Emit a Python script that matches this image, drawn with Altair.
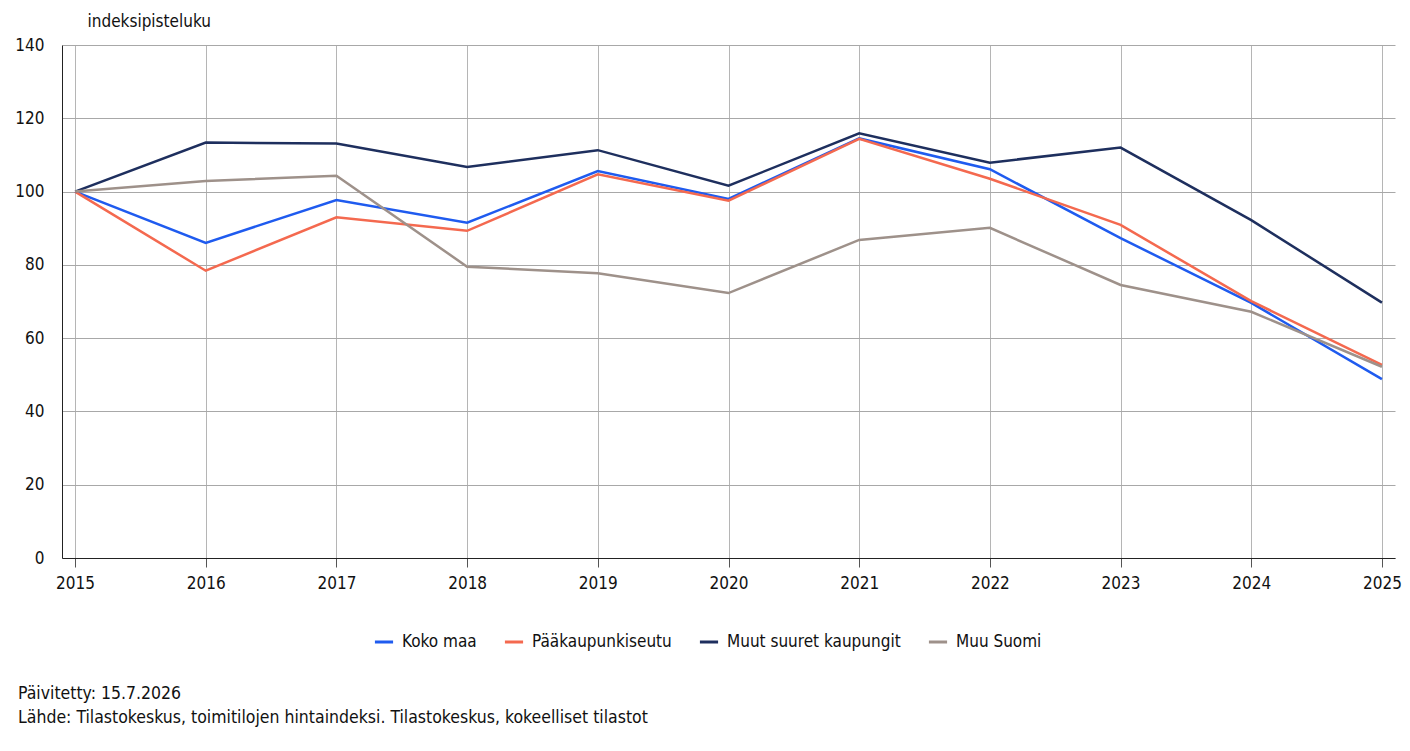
import altair as alt
import pandas as pd

years = [2015, 2016, 2017, 2018, 2019, 2020, 2021, 2022, 2023, 2024, 2025]
series_names = ["Koko maa", "Pääkaupunkiseutu", "Muut suuret kaupungit", "Muu Suomi"]
koko_maa = [100, 86.0, 97.7, 91.5, 105.6, 98.0, 114.5, 106.1, 87.3, 69.6, 48.8]
paakaupunkiseutu = [100, 78.4, 93.0, 89.3, 104.7, 97.5, 114.4, 103.5, 90.9, 70.1, 52.7]
muut_suuret = [100, 113.4, 113.1, 106.7, 111.3, 101.6, 115.9, 107.9, 112.0, 92.2, 69.7]
muu_suomi = [100, 102.9, 104.3, 79.5, 77.7, 72.3, 86.8, 90.1, 74.5, 67.2, 52.2]
colors = ["#1f5bef", "#f4694f", "#1e2f5e", "#9e918a"]
y_ticks = [0, 20, 40, 60, 80, 100, 120, 140]

rows = []
for name, vals in zip(series_names, [koko_maa, paakaupunkiseutu, muut_suuret, muu_suomi]):
    for yr, v in zip(years, vals):
        rows.append({"vuosi": str(yr), "sarja": name, "arvo": v})
df = pd.DataFrame(rows)

FONT = "Liberation Sans Narrow, DejaVu Sans Condensed, Roboto, sans-serif"
FS = 17

chart = alt.Chart(df).mark_line(strokeWidth=2.5).encode(
    x=alt.X("vuosi:O", scale=alt.Scale(type="point", padding=0.1),
            axis=alt.Axis(title=None, labelAngle=0, grid=True, gridColor="#b5b5b5",
                          domainColor="#222222", tickColor="#555555", tickSize=9,
                          labelPadding=8, labelFontSize=FS, labelColor="#111111")),
    y=alt.Y("arvo:Q", scale=alt.Scale(domain=[0, 140], nice=False),
            axis=alt.Axis(values=y_ticks, title="indeksipisteluku", titleAngle=0,
                          titleAlign="left", titleBaseline="alphabetic", titleX=25, titleY=-19,
                          titleFontSize=FS, titleFontWeight="normal", titleColor="#111111",
                          ticks=False, labelPadding=18, labelFontSize=FS, labelColor="#111111",
                          domainColor="#222222", gridColor="#a8a8a8")),
    color=alt.Color("sarja:N", sort=series_names,
                    scale=alt.Scale(domain=series_names, range=colors),
                    legend=alt.Legend(title=None, orient="none", direction="horizontal",
                                      legendX=311, legendY=586, symbolType="stroke",
                                      symbolSize=330, symbolStrokeWidth=3, labelFontSize=FS,
                                      labelColor="#111111", columnPadding=21, labelOffset=7,
                                      labelLimit=0)),
    order=alt.Order("vuosi:O"),
).properties(
    width=1333, height=513,
    autosize=alt.AutoSizeParams(type="none"),
    padding={"left": 62, "top": 45, "right": 15, "bottom": 193},
    title=alt.TitleParams(
        text=["Päivitetty: 15.7.2026",
              "Lähde: Tilastokeskus, toimitilojen hintaindeksi. Tilastokeskus, kokeelliset tilastot"],
        orient="bottom", anchor="start", frame="group", dx=-44, offset=35,
        fontSize=17.5, fontWeight="normal", lineHeight=24, color="#111111"),
).configure(font=FONT).configure_view(stroke=None)

chart.save("out.html", embed_options={"renderer": "svg", "actions": False})
